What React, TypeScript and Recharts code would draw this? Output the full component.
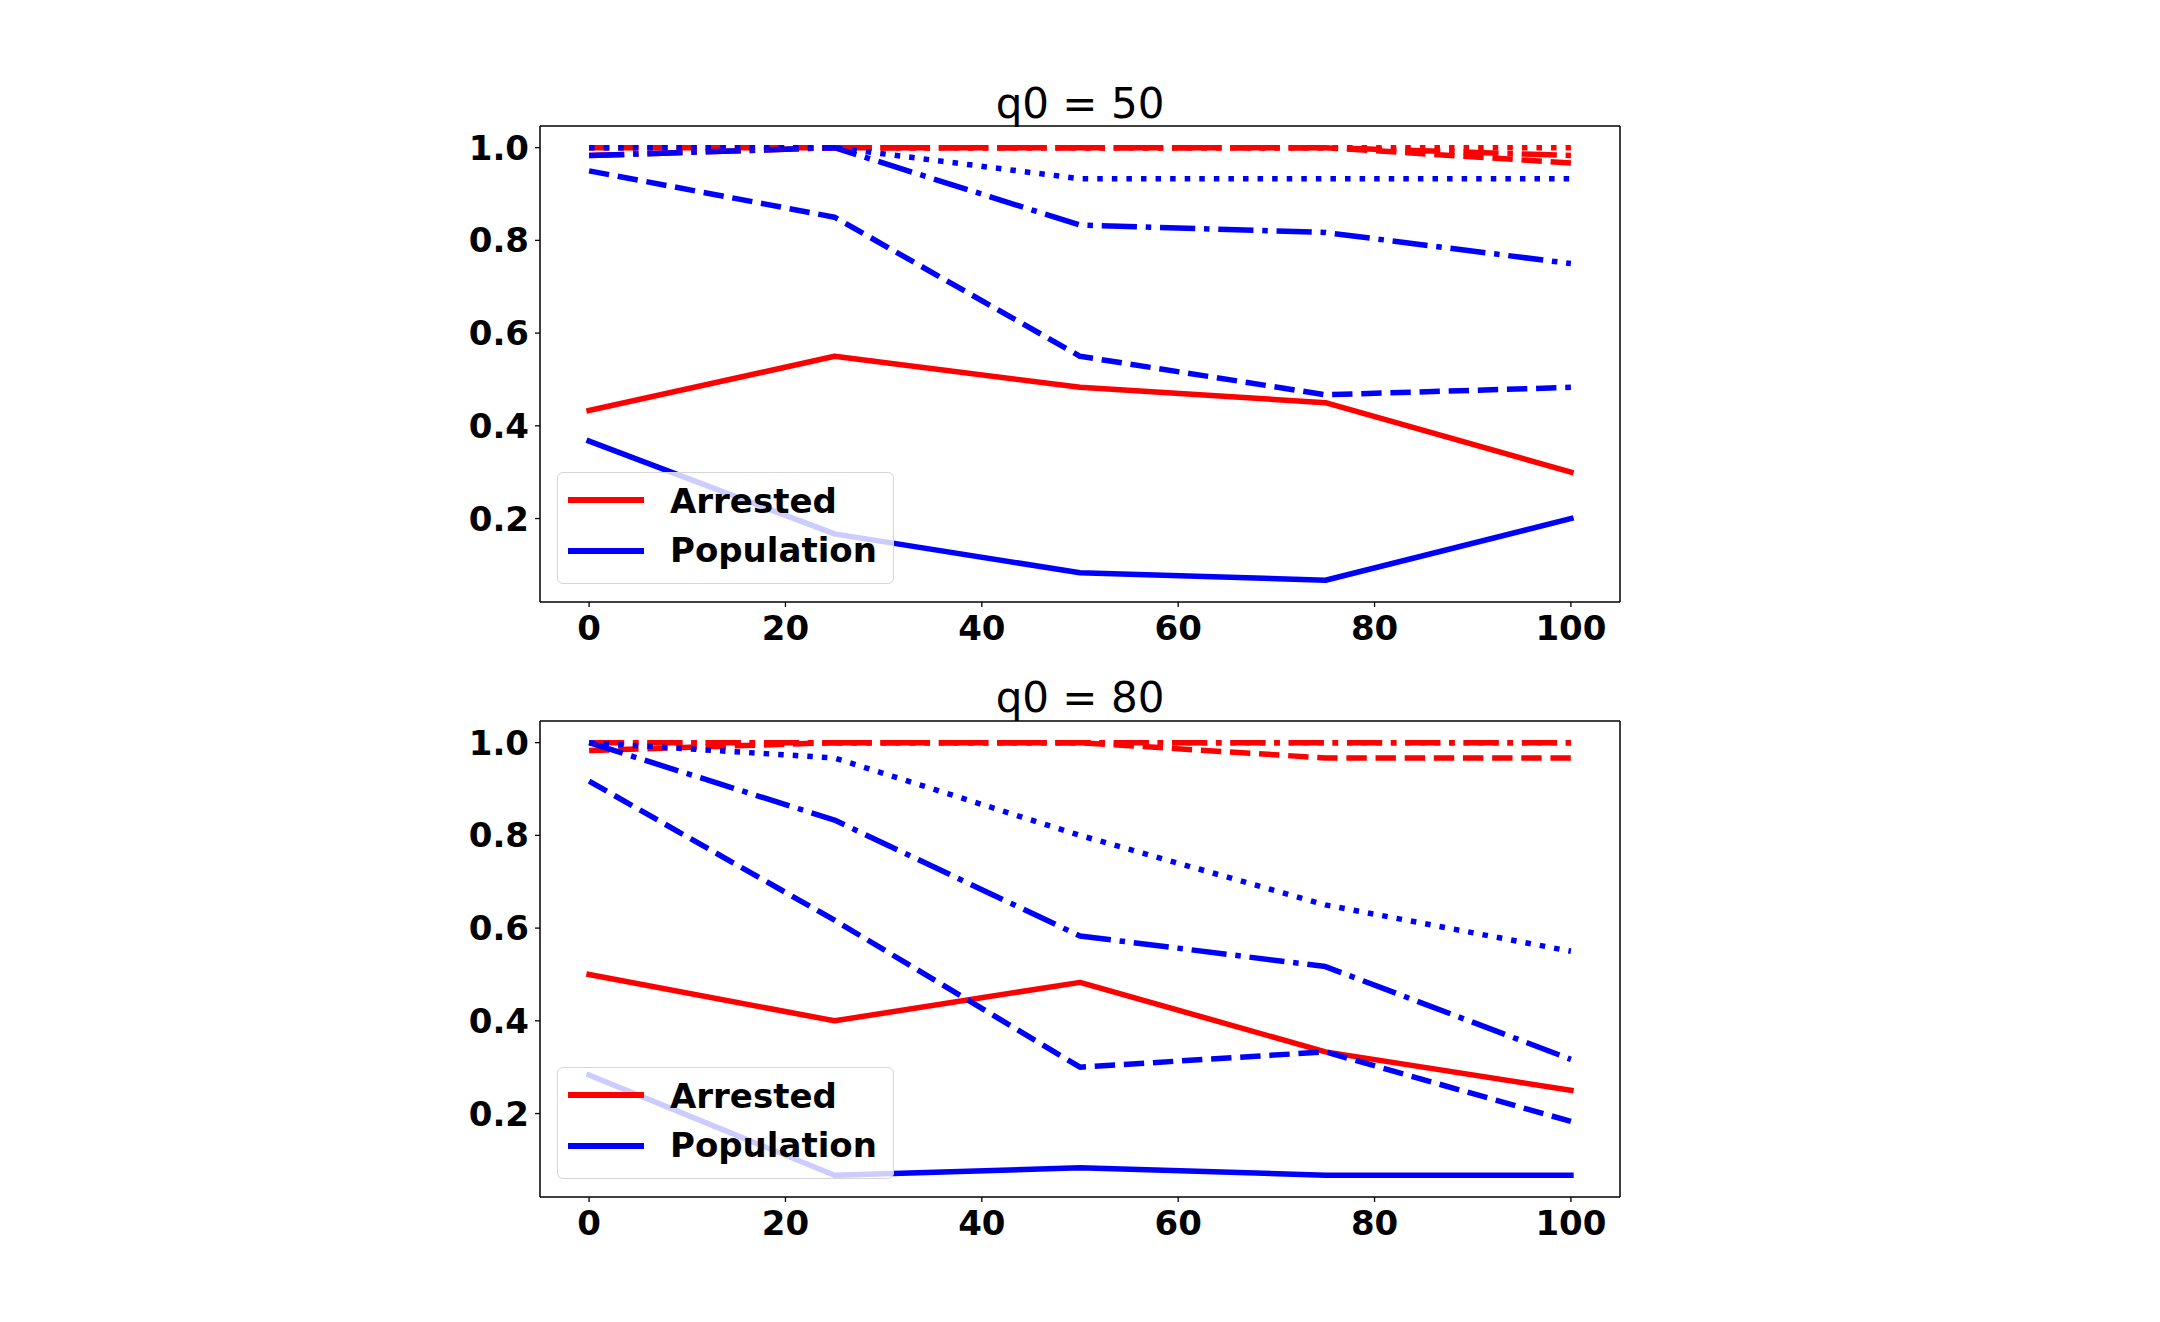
import React from 'react';
import { LineChart, Line, XAxis, YAxis, Legend, ReferenceLine } from 'recharts';

// ---------- data ----------
const X_VALUES = [0, 25, 50, 75, 100];
const X_TICKS = [0, 20, 40, 60, 80, 100];
const Y_TICKS = [0.2, 0.4, 0.6, 0.8, 1.0];
const TITLES = ['q0 = 50', 'q0 = 80'];

// q0 = 50
const q50ArrestedSolid = [0.433, 0.55, 0.483, 0.45, 0.3];
const q50PopulationSolid = [0.367, 0.167, 0.083, 0.067, 0.2];
const q50ArrestedDashed = [1.0, 1.0, 1.0, 1.0, 0.967];
const q50PopulationDashed = [0.95, 0.85, 0.55, 0.467, 0.483];
const q50ArrestedDashDot = [0.983, 1.0, 1.0, 1.0, 0.983];
const q50PopulationDashDot = [0.983, 1.0, 0.833, 0.817, 0.75];
const q50ArrestedDotted = [1.0, 1.0, 1.0, 1.0, 1.0];
const q50PopulationDotted = [1.0, 1.0, 0.933, 0.933, 0.933];

// q0 = 80
const q80ArrestedSolid = [0.5, 0.4, 0.483, 0.333, 0.25];
const q80PopulationSolid = [0.283, 0.067, 0.083, 0.067, 0.067];
const q80ArrestedDashed = [0.983, 1.0, 1.0, 0.967, 0.967];
const q80PopulationDashed = [0.917, 0.617, 0.3, 0.333, 0.183];
const q80ArrestedDashDot = [1.0, 1.0, 1.0, 1.0, 1.0];
const q80PopulationDashDot = [1.0, 0.833, 0.583, 0.517, 0.317];
const q80ArrestedDotted = [1.0, 1.0, 1.0, 1.0, 1.0];
const q80PopulationDotted = [1.0, 0.967, 0.8, 0.65, 0.55];

const buildRows = (
  rs: number[], bs: number[], rd: number[], bd: number[],
  rdd: number[], bdd: number[], rdt: number[], bdt: number[]
) =>
  X_VALUES.map((x, i) => ({
    x,
    rs: rs[i], bs: bs[i], rd: rd[i], bd: bd[i],
    rdd: rdd[i], bdd: bdd[i], rdt: rdt[i], bdt: bdt[i],
  }));

const DATA_50 = buildRows(
  q50ArrestedSolid, q50PopulationSolid, q50ArrestedDashed, q50PopulationDashed,
  q50ArrestedDashDot, q50PopulationDashDot, q50ArrestedDotted, q50PopulationDotted
);
const DATA_80 = buildRows(
  q80ArrestedSolid, q80PopulationSolid, q80ArrestedDashed, q80PopulationDashed,
  q80ArrestedDashDot, q80PopulationDashDot, q80ArrestedDotted, q80PopulationDotted
);

// ---------- styles ----------
const RED = '#ff0000';
const BLUE = '#0000ff';
const LW = 5.5;
const DASHED = `${3.7 * LW} ${1.6 * LW}`;
const DASHDOT = `${6.4 * LW} ${1.6 * LW} ${1 * LW} ${1.6 * LW}`;
const DOTTED = `${1 * LW} ${1.65 * LW}`;
const FONT = "'DejaVu Sans', sans-serif";
const Y_DOMAIN: [number, number] = [0.02, 1.0467];
const X_DOMAIN: [number, number] = [-5, 105];

const tickStyle = { fill: '#000', fontSize: 34, fontWeight: 700, fontFamily: FONT };
const axisLineStyle = { stroke: '#000', strokeWidth: 1.5 };
const tickLineStyle = { stroke: '#000', strokeWidth: 1.3 };

const LegendBox = (props: any) => {
  const items = (props.payload || []).filter((p: any) => p.type !== 'none');
  return (
    <div
      style={{
        position: 'relative',
        width: 337,
        height: 112,
        boxSizing: 'border-box',
        border: '1.5px solid #d6d6d6',
        borderRadius: 6,
        background: 'rgba(255,255,255,0.8)',
        fontFamily: FONT,
        fontWeight: 700,
        fontSize: 34,
        color: '#000',
      }}
    >
      {items.map((item: any, i: number) => (
        <React.Fragment key={item.value}>
          <div
            style={{
              position: 'absolute',
              left: 10,
              top: 27 + i * 51 - LW / 2,
              width: 76,
              height: LW,
              background: item.color,
            }}
          />
          <div
            style={{
              position: 'absolute',
              left: 112,
              top: 10.5 + i * 49.4,
              lineHeight: '34px',
              whiteSpace: 'nowrap',
            }}
          >
            {item.value}
          </div>
        </React.Fragment>
      ))}
    </div>
  );
};

type PanelProps = {
  data: any[];
  height: number;
  margin: { top: number; right: number; bottom: number; left: number };
  legendTop: number;
};

const Panel = ({ data, height, margin, legendTop }: PanelProps) => (
  <LineChart width={2160} height={height} data={data} margin={margin}>
    <XAxis
      dataKey="x"
      type="number"
      domain={X_DOMAIN}
      ticks={X_TICKS}
      interval={0}
      allowDataOverflow
      height={58}
      tickSize={5}
      tickMargin={9}
      axisLine={axisLineStyle}
      tickLine={tickLineStyle}
      tick={tickStyle}
    />
    <YAxis
      type="number"
      domain={Y_DOMAIN}
      ticks={Y_TICKS}
      interval={0}
      allowDataOverflow
      width={80}
      tickSize={5}
      tickMargin={6}
      tickFormatter={(v: number) => v.toFixed(1)}
      axisLine={axisLineStyle}
      tickLine={tickLineStyle}
      tick={tickStyle}
    />
    <ReferenceLine y={Y_DOMAIN[1]} stroke="#000" strokeWidth={1.5} />
    <ReferenceLine x={X_DOMAIN[1]} stroke="#000" strokeWidth={1.5} />
    <Line dataKey="rs" name="Arrested" stroke={RED} strokeWidth={LW} strokeLinecap="square" strokeLinejoin="round" dot={false} activeDot={false} isAnimationActive={false} />
    <Line dataKey="bs" name="Population" stroke={BLUE} strokeWidth={LW} strokeLinecap="square" strokeLinejoin="round" dot={false} activeDot={false} isAnimationActive={false} />
    <Line dataKey="rd" legendType="none" stroke={RED} strokeWidth={LW} strokeDasharray={DASHED} strokeLinejoin="round" dot={false} activeDot={false} isAnimationActive={false} />
    <Line dataKey="bd" legendType="none" stroke={BLUE} strokeWidth={LW} strokeDasharray={DASHED} strokeLinejoin="round" dot={false} activeDot={false} isAnimationActive={false} />
    <Line dataKey="rdd" legendType="none" stroke={RED} strokeWidth={LW} strokeDasharray={DASHDOT} strokeLinejoin="round" dot={false} activeDot={false} isAnimationActive={false} />
    <Line dataKey="bdd" legendType="none" stroke={BLUE} strokeWidth={LW} strokeDasharray={DASHDOT} strokeLinejoin="round" dot={false} activeDot={false} isAnimationActive={false} />
    <Line dataKey="rdt" legendType="none" stroke={RED} strokeWidth={LW} strokeDasharray={DOTTED} strokeLinejoin="round" dot={false} activeDot={false} isAnimationActive={false} />
    <Line dataKey="bdt" legendType="none" stroke={BLUE} strokeWidth={LW} strokeDasharray={DOTTED} strokeLinejoin="round" dot={false} activeDot={false} isAnimationActive={false} />
    <Legend
      layout="vertical"
      align="center"
      verticalAlign="middle"
      content={LegendBox}
      wrapperStyle={{ left: 557, top: legendTop, width: 337, height: 112, right: 'auto', bottom: 'auto' }}
    />
  </LineChart>
);

export default function App() {
  return (
    <div style={{ position: 'absolute', left: 0, top: 0, width: 2160, height: 1322, background: '#fff', overflow: 'hidden' }}>
      <div style={{ position: 'absolute', left: 0, top: 0 }}>
        <Panel data={DATA_50} height={662} margin={{ top: 126, right: 540, bottom: 2, left: 460 }} legendTop={472} />
      </div>
      <div style={{ position: 'absolute', left: 0, top: 662 }}>
        <Panel data={DATA_80} height={660} margin={{ top: 59, right: 540, bottom: 67, left: 460 }} legendTop={405} />
      </div>
      <svg width={2160} height={1322} style={{ position: 'absolute', left: 0, top: 0, pointerEvents: 'none' }}>
        <text x={1080} y={117.5} textAnchor="middle" fontSize={42} fontFamily={FONT} fill="#000">{TITLES[0]}</text>
        <text x={1080} y={712} textAnchor="middle" fontSize={42} fontFamily={FONT} fill="#000">{TITLES[1]}</text>
      </svg>
    </div>
  );
}
